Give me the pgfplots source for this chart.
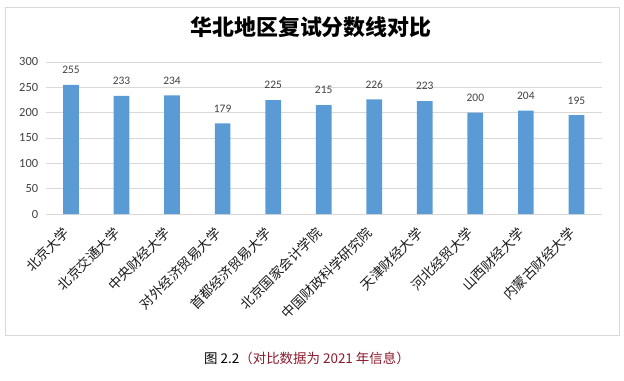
\documentclass[border=0pt]{standalone}
\usepackage{pgfplots}
\pgfplotsset{compat=1.18}
\usepackage{fontspec}
\setmainfont{Carlito}
\newfontfamily\cjk{Noto Sans CJK SC}
\definecolor{barblue}{HTML}{5B9BD5}
\definecolor{gridgray}{HTML}{D9D9D9}
\definecolor{txtgray}{HTML}{404040}
\definecolor{lblgray}{HTML}{1A1A1A}
\definecolor{capred}{HTML}{8B1A2B}
\begin{document}
\begin{tikzpicture}[x=1bp,y=1bp]
\path[use as bounding box] (0,0) rectangle (624,380);
\draw[gridgray, line width=0.8bp] (5.5,45) rectangle (619,373);
\node[font=\cjk\bfseries\fontsize{22}{24}\selectfont, text=black] at (311,353) {华北地区复试分数线对比};
\begin{axis}[
  at={(45.7bp,166bp)}, anchor=south west,
  scale only axis, width=556bp, height=152bp,
  xmin=-0.5, xmax=10.5, ymin=0, ymax=300,
  ytick={0,50,...,300},
  xtick={0,...,10},
  xticklabels={北京大学,北京交通大学,中央财经大学,对外经济贸易大学,首都经济贸易大学,北京国家会计学院,中国财政科学研究院,天津财经大学,河北经贸大学,山西财经大学,内蒙古财经大学},
  ymajorgrids, grid style={gridgray, line width=0.8bp},
  axis line style={draw=none},
  major tick length=0,
  /pgf/number format/assume math mode=true,
  yticklabel style={font=\fontsize{12.5}{13}\selectfont, text=txtgray, xshift=-4bp},
  xticklabel style={font=\cjk\fontsize{13.5}{14}\selectfont, text=lblgray, anchor=east, xshift=-2bp, yshift=-14bp, rotate=45},
  ybar, bar width=15.7bp,
  nodes near coords,
  nodes near coords style={font=\fontsize{11.5}{12}\selectfont, text=txtgray, yshift=7.5bp},
  clip=false,
]
\addplot[fill=barblue, draw=none] coordinates {
(0,255) (1,233) (2,234) (3,179) (4,225) (5,215) (6,226) (7,223) (8,200) (9,204) (10,195)
};
\end{axis}
\node[font=\cjk\fontsize{13.5}{15}\selectfont] at (307,22) {图 2.2\textcolor{capred}{（对比数据为 2021 年信息）}};
\end{tikzpicture}
\end{document}
